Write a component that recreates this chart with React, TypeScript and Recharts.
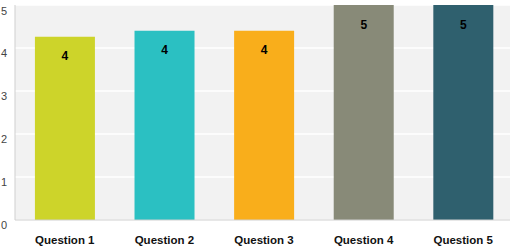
import React from 'react';
import { BarChart, Bar, XAxis, YAxis, CartesianGrid, Cell, LabelList } from 'recharts';

const categories = ['Question 1', 'Question 2', 'Question 3', 'Question 4', 'Question 5'];
const scores = [4.26, 4.4, 4.4, 5, 5];
const barColors = ['#cdd42a', '#2bc0c2', '#f9ae1b', '#888a78', '#2f606e'];
const yTicks = [0, 1, 2, 3, 4, 5];

const data = categories.map((name, i) => ({ name, score: scores[i] }));

export default function App() {
  return (
    <div style={{ position: 'absolute', left: 0, top: 0, width: 510, height: 246, overflow: 'hidden' }}>
      <BarChart
        width={513}
        height={246}
        data={data}
        margin={{ top: 5, right: 0, bottom: 0, left: 0 }}
        barCategoryGap="20%"
      >
        <CartesianGrid vertical={false} fill="#f2f2f2" stroke="#ffffff" strokeWidth={1.5} />
        <XAxis
          dataKey="name"
          height={26}
          tickLine={false}
          tickSize={0}
          axisLine={{ stroke: '#cfcfcf' }}
          tick={{ fill: '#111', fontSize: 11.5, fontWeight: 'bold', fontFamily: 'Liberation Sans, Arial, sans-serif' }}
          tickMargin={16}
          interval={0}
        />
        <YAxis
          width={15}
          domain={[0, 5]}
          ticks={yTicks}
          tickLine={false}
          tickSize={0}
          axisLine={{ stroke: '#cfcfcf' }}
          tick={{ fill: '#444', fontSize: 11, fontFamily: 'Liberation Sans, Arial, sans-serif', dy: 5 }}
          tickMargin={8}
        />
        <Bar dataKey="score" isAnimationActive={false}>
          {data.map((d, i) => (
            <Cell key={d.name} fill={barColors[i]} />
          ))}
          <LabelList
            dataKey="score"
            position="insideTop"
            offset={15}
            formatter={(v: number) => Math.round(v)}
            style={{ fill: '#000', fontSize: 12, fontWeight: 'bold', fontFamily: 'Liberation Sans, Arial, sans-serif' }}
          />
        </Bar>
      </BarChart>
    </div>
  );
}
